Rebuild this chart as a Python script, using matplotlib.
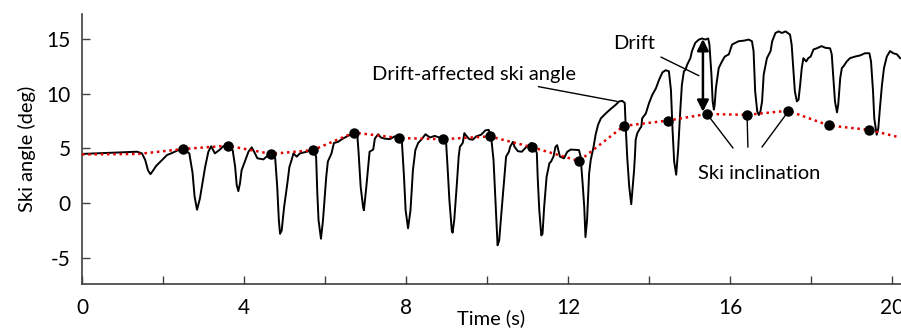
import matplotlib
matplotlib.use("Agg")
import matplotlib.pyplot as plt

plt.rcParams['font.family'] = ['Lato', 'DejaVu Sans']
plt.rcParams['axes.unicode_minus'] = False

# drift-affected ski angle (black trace)
time_s = [0, 1.36, 1.48, 1.56, 1.63, 1.69, 1.74, 1.83, 1.98, 2.1, 2.2, 2.35, 2.51, 2.65, 2.73, 2.78, 2.84, 2.91,
          3.04, 3.12, 3.19, 3.28, 3.39, 3.49, 3.61, 3.72, 3.78, 3.82, 3.86, 3.9, 3.94, 4.02, 4.11, 4.19, 4.25,
          4.33, 4.48, 4.6, 4.67, 4.77, 4.82, 4.86, 4.89, 4.93, 4.99, 5.07, 5.12, 5.18, 5.22, 5.3, 5.38, 5.55,
          5.7, 5.78, 5.81, 5.84, 5.9, 5.95, 6.03, 6.07, 6.16, 6.22, 6.32, 6.44, 6.57, 6.72, 6.8, 6.83, 6.88,
          6.94, 6.96, 7.02, 7.1, 7.19, 7.23, 7.31, 7.38, 7.47, 7.6, 7.72, 7.83, 7.9, 7.95, 7.99, 8.05, 8.11,
          8.17, 8.23, 8.3, 8.4, 8.48, 8.59, 8.71, 8.74, 8.91, 8.99, 9.03, 9.07, 9.13, 9.15, 9.19, 9.25, 9.3,
          9.33, 9.4, 9.44, 9.5, 9.56, 9.65, 9.73, 9.85, 9.96, 10.04, 10.1, 10.16, 10.2, 10.24, 10.26, 10.3,
          10.36, 10.43, 10.47, 10.54, 10.57, 10.64, 10.68, 10.76, 10.86, 10.96, 11.09, 11.17, 11.23, 11.25,
          11.29, 11.34, 11.37, 11.41, 11.47, 11.54, 11.58, 11.64, 11.69, 11.73, 11.8, 11.9, 11.98, 12.07,
          12.27, 12.31, 12.36, 12.4, 12.43, 12.47, 12.52, 12.56, 12.63, 12.68, 12.74, 12.81, 12.93, 13.05,
          13.18, 13.26, 13.34, 13.4, 13.42, 13.46, 13.51, 13.56, 13.59, 13.63, 13.65, 13.67, 13.71, 13.78,
          13.81, 13.83, 13.92, 14.0, 14.08, 14.17, 14.25, 14.33, 14.41, 14.49, 14.54, 14.58, 14.62, 14.67,
          14.72, 14.77, 14.81, 14.86, 14.9, 14.94, 15.02, 15.06, 15.14, 15.23, 15.31, 15.39, 15.46, 15.49,
          15.54, 15.57, 15.6, 15.62, 15.65, 15.72, 15.8, 15.87, 15.97, 16.01, 16.05, 16.13, 16.21, 16.34,
          16.46, 16.54, 16.58, 16.62, 16.67, 16.71, 16.75, 16.79, 16.83, 16.91, 17.0, 17.04, 17.12, 17.2,
          17.28, 17.37, 17.48, 17.52, 17.56, 17.6, 17.65, 17.69, 17.73, 17.77, 17.81, 17.88, 17.93, 17.99,
          18.06, 18.14, 18.26, 18.35, 18.47, 18.51, 18.55, 18.59, 18.64, 18.67, 18.72, 18.76, 18.8, 18.88,
          18.96, 19.09, 19.21, 19.33, 19.44, 19.48, 19.53, 19.56, 19.62, 19.66, 19.7, 19.75, 19.8, 19.87,
          19.95, 20.03, 20.12, 20.2]
ski_angle = [4.5, 4.7, 4.55, 3.95, 3.0, 2.65, 2.9, 3.4, 3.95, 4.4, 4.55, 4.8, 4.9, 4.55, 2.75, 0.6, -0.6, 0.4,
             3.3, 4.7, 5.2, 4.55, 4.85, 5.2, 5.3, 4.85, 3.35, 1.65, 1.1, 1.8, 3.0, 3.8, 4.7, 5.1, 4.7,
             4.1, 4.0, 4.4, 4.55, 4.1, 1.5, -1.55, -2.8, -2.5, -0.35, 1.8, 3.3, 4.0, 4.55, 4.25, 4.55, 4.7,
             4.9, 4.25, 0.9, -1.55, -3.25, -1.55, 2.4, 3.8, 4.55, 5.5, 5.6, 5.9, 6.15, 6.45, 6.1, 4.55, 1.5,
             -0.35, -0.65, 1.5, 4.7, 4.9, 5.9, 6.3, 6.0, 5.9, 5.85, 6.1, 5.9, 5.5, 2.4, -0.65, -2.3, -0.65,
             3.0, 4.85, 5.5, 5.9, 6.3, 6.0, 6.15, 6.1, 5.9, 5.5, 3.0, 0.3, -2.5, -2.7, -1.55, 1.5, 4.25,
             5.15, 5.5, 6.4, 6.1, 5.85, 5.8, 6.1, 6.25, 6.65, 6.7, 6.1, 3.95, 0.9, -2.2, -3.85, -3.4,
             -0.65, 2.4, 4.25, 4.7, 5.15, 5.6, 5.15, 4.75, 4.7, 5.1, 5.5, 5.25, 4.55, 2.4,
             -0.65, -2.95, -2.8, -0.35, 2.4, 3.65, 3.8, 4.25, 5.15, 5.3, 4.25, 4.1, 4.7, 4.9,
             4.85, 4.25, 1.8, -0.35, -3.1, -1.5, 2.7, 3.95, 5.15, 6.25, 7.15, 7.75, 8.2, 8.6,
             9.0, 9.3, 9.35, 9.15, 7.3, 4.25, 1.5, -0.1, 1.2, 3.0, 4.25, 5.8, 6.4, 6.85,
             7.0, 7.75, 8.2, 9.15, 9.9, 10.5, 11.3, 11.95, 12.15, 12.05, 10.35, 6.7, 3.8, 2.6,
             5.0, 8.4, 10.8, 12.05, 12.2, 12.65, 13.25, 13.9, 14.65, 14.95, 15.05, 14.95, 15.05, 14.5,
             11.75, 9.3, 8.55, 9.0, 10.5, 12.35, 12.95, 13.4, 13.6, 14.05, 14.5, 14.65, 14.8, 14.85,
             14.95, 14.8, 13.9, 10.2, 8.4, 8.05, 8.4, 9.3, 11.75, 13.25, 13.9, 14.8, 15.55, 15.7,
             15.55, 15.7, 15.4, 14.5, 12.35, 10.2, 9.3, 9.45, 10.8, 12.35, 13.25, 12.95, 13.25, 13.4,
             14.05, 14.15, 14.35, 14.2, 14.15, 13.6, 11.45, 9.3, 8.3, 9.0, 11.45, 12.35, 12.5, 12.95,
             13.25, 13.4, 13.5, 13.7, 13.7, 12.95, 10.2, 7.75, 6.25, 6.85, 8.7, 10.8, 12.35, 13.4,
             13.9, 13.7, 13.6, 13.25]

# ski inclination estimates (red dotted line + black dots)
incl_t = [2.5, 3.6, 4.67, 5.7, 6.72, 7.83, 8.91, 10.07, 11.12, 12.27, 13.38, 14.47, 15.43, 16.42, 17.43, 18.44, 19.43]
incl_y = [4.95, 5.25, 4.5, 4.85, 6.45, 5.95, 5.85, 6.1, 5.1, 3.85, 7.06, 7.55, 8.15, 8.07, 8.45, 7.1, 6.7]
line_t = [0, 1.4] + incl_t + [20.2]
line_y = [4.45, 4.5] + incl_y + [6.0]

fig = plt.figure(figsize=(9.01, 3.3), dpi=100)
ax = fig.add_axes([0.091, 0.139, 0.909, 0.819])

ax.plot(time_s, ski_angle, color='black', lw=1.4, zorder=2)
ax.plot(line_t, line_y, color='#e00000', lw=1.8, ls=(0, (1, 1.5)), zorder=3)
ax.plot(incl_t, incl_y, 'o', color='black', ms=6.5, zorder=4)

ax.set_xlim(0, 20.22)
ax.set_ylim(-7.4, 17.3)
ax.set_xticks(range(0, 21, 2))
ax.set_xticklabels([str(v) if v % 4 == 0 else '' for v in range(0, 21, 2)])
ax.set_yticks([-5, 0, 5, 10, 15])
ax.tick_params(direction='in', length=6, width=1, colors='#404040', labelcolor='black', labelsize=15)
ax.tick_params(axis='x', pad=10)
ax.tick_params(axis='y', pad=8)
for s in ['top', 'right']:
    ax.spines[s].set_visible(False)
for s in ['left', 'bottom']:
    ax.spines[s].set_color('#404040')
    ax.spines[s].set_linewidth(1.2)

ax.set_ylabel('Ski angle (deg)', fontsize=14.5, labelpad=8)
ax.set_xlabel('Time (s)', fontsize=14.5, labelpad=-6)

# annotations
ax.annotate('Drift-affected ski angle', xy=(13.21, 9.3), xytext=(12.2, 11.75),
            ha='right', va='center', fontsize=14.5,
            arrowprops=dict(arrowstyle='-', color='black', lw=1, shrinkA=3, shrinkB=0))
ax.annotate('Drift', xy=(15.23, 11.65), xytext=(14.15, 14.55),
            ha='right', va='center', fontsize=14.5,
            arrowprops=dict(arrowstyle='-', color='black', lw=1, shrinkA=3, shrinkB=0))
ax.annotate('', xy=(15.33, 8.35), xytext=(15.33, 15.0),
            arrowprops=dict(arrowstyle='<|-|>', color='black', lw=1.8,
                            mutation_scale=17, shrinkA=0, shrinkB=0))
ax.text(16.72, 2.75, 'Ski inclination', ha='center', va='center', fontsize=14.5)
for (x0, y0), (x1, y1) in [((15.43, 8.15), (16.07, 5.05)),
                           ((16.42, 8.07), (16.44, 5.14)),
                           ((17.46, 8.5), (16.79, 5.14))]:
    ax.plot([x0, x1], [y0, y1], color='black', lw=1, zorder=1)

fig.savefig('out.png', dpi=100)
